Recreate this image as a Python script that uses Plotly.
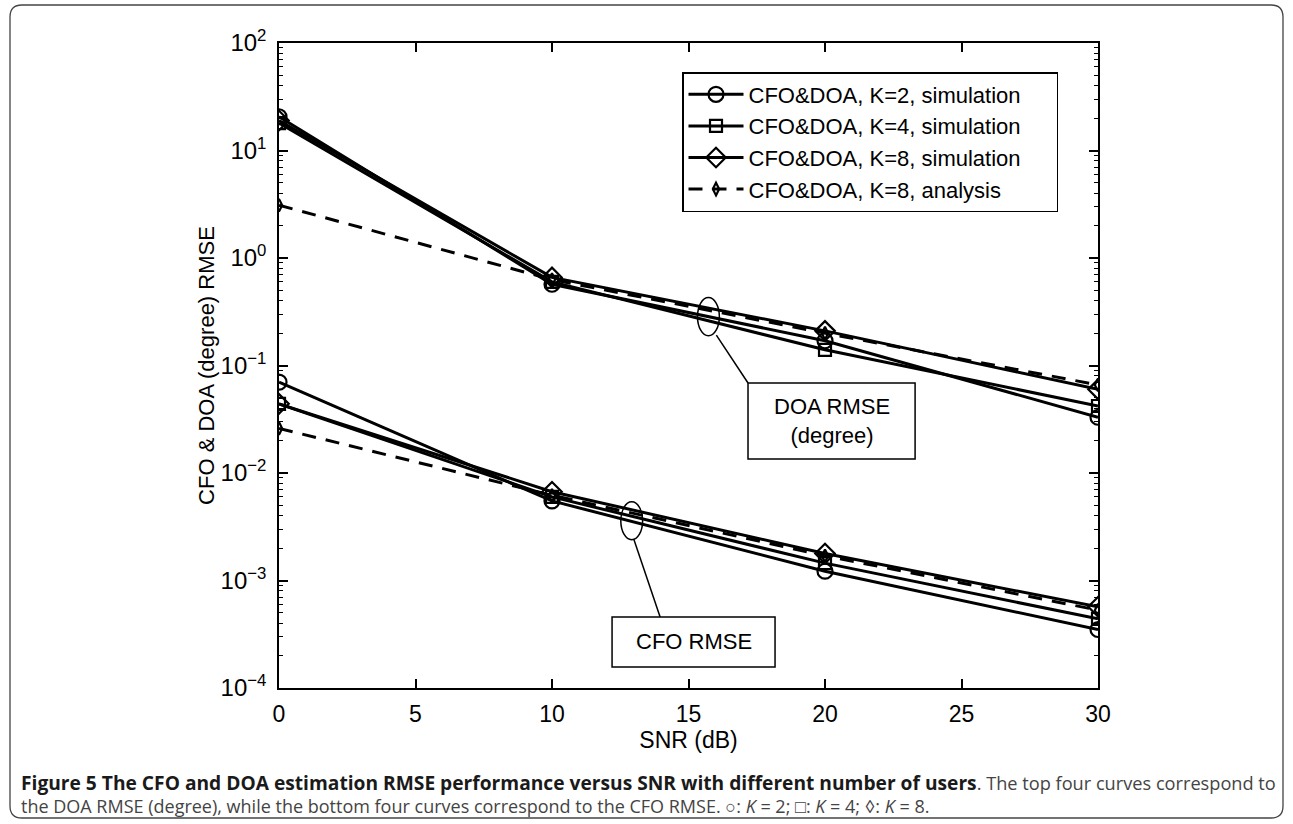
import math
import plotly.graph_objects as go

# ---------------- data ----------------
snr = [0, 10, 20, 30]

doa_k2 = [20.6, 0.57, 0.17, 0.033]
doa_k4 = [18.0, 0.60, 0.14, 0.042]
doa_k8 = [19.0, 0.66, 0.21, 0.060]
doa_ana = [3.1, 0.63, 0.20, 0.066]

cfo_k2 = [0.070, 0.0055, 0.00122, 0.00035]
cfo_k4 = [0.044, 0.0060, 0.00145, 0.00044]
cfo_k8 = [0.044, 0.0067, 0.00178, 0.00057]
cfo_ana = [0.026, 0.0062, 0.0017, 0.00053]

names = ["CFO&DOA, K=2, simulation", "CFO&DOA, K=4, simulation",
         "CFO&DOA, K=8, simulation", "CFO&DOA, K=8, analysis"]

x_ticks = [0, 5, 10, 15, 20, 25, 30]
y_tickvals = [1e-4, 1e-3, 1e-2, 1e-1, 1, 10, 100]
y_ticktext = ["10<sup>\u22124</sup>", "10<sup>\u22123</sup>", "10<sup>\u22122</sup>",
              "10<sup>\u22121</sup>", "10<sup>0</sup>", "10<sup>1</sup>", "10<sup>2</sup>"]
y_minor = [m * 10.0 ** e for e in range(-4, 2) for m in range(2, 10)]

# ---------------- layout geometry (pixels) ----------------
W, H = 1293, 824
L, R, T, B = 279, 195, 43, 136
PW, PH = W - L - R, H - T - B


def px(x):
    return (x - L) / PW


def py(y):
    return (H - B - y) / PH


FONT = "Liberation Sans, Arial, Helvetica, sans-serif"
CAPFONT = "Open Sans, Noto Sans, sans-serif"

fig = go.Figure()

series = [
    (doa_ana, cfo_ana, names[3], "diamond-tall-open", 9, "dash"),
    (doa_k2, cfo_k2, names[0], "circle-open", 15, "solid"),
    (doa_k4, cfo_k4, names[1], "square-open", 12, "solid"),
    (doa_k8, cfo_k8, names[2], "diamond-open", 15, "solid"),
]
legend_rank = {names[0]: 1, names[1]: 2, names[2]: 3, names[3]: 4}
PAD = "\u00a0" * 5

for doa, cfo, name, sym, size, dash in series:
    xs = snr + [None] + snr
    ys = doa + [None] + cfo
    fig.add_trace(go.Scatter(
        x=xs, y=ys, name=name + PAD, mode="lines+markers",
        connectgaps=False,
        legendrank=legend_rank[name],
        line=dict(color="black", width=3, dash="14px,10px" if dash == "dash" else "solid"),
        marker=dict(symbol=sym, size=size, color="black",
                    line=dict(color="black", width=2.2)),
    ))

# ---------------- annotation callouts (data coords) ----------------
shapes = []
# DOA ellipse, line and box
shapes.append(dict(type="circle", xref="x", yref="y", x0=15.33, x1=16.13, y0=0.189, y1=0.428,
                   line=dict(color="black", width=1.5)))
shapes.append(dict(type="line", xref="x", yref="y", x0=16.02, y0=0.192, x1=17.18, y1=0.0687,
                   line=dict(color="black", width=1.5)))
shapes.append(dict(type="rect", xref="x", yref="y", x0=17.18, x1=23.3, y0=0.0135, y1=0.0687,
                   line=dict(color="black", width=1.5), fillcolor="white"))
# CFO ellipse, line and box
shapes.append(dict(type="circle", xref="x", yref="y", x0=12.52, x1=13.32, y0=0.00239, y1=0.0054,
                   line=dict(color="black", width=1.5)))
shapes.append(dict(type="line", xref="x", yref="y", x0=13.0, y0=0.00241, x1=13.96, y1=4.57e-4,
                   line=dict(color="black", width=1.5)))
shapes.append(dict(type="rect", xref="x", yref="y", x0=12.2, x1=18.17, y0=1.57e-4, y1=4.57e-4,
                   line=dict(color="black", width=1.5), fillcolor="white"))

# outer rounded frame (paper coords built from pixel edges)
x0p, x1p = px(10), px(1283)
ytp, ybp = py(5), py(818)
rx, ry = 12 / PW, 12 / PH
frame_path = (
    f"M{x0p + rx},{ytp} L{x1p - rx},{ytp} Q{x1p},{ytp} {x1p},{ytp - ry} "
    f"L{x1p},{ybp + ry} Q{x1p},{ybp} {x1p - rx},{ybp} "
    f"L{x0p + rx},{ybp} Q{x0p},{ybp} {x0p},{ybp + ry} "
    f"L{x0p},{ytp - ry} Q{x0p},{ytp} {x0p + rx},{ytp} Z"
)
shapes.append(dict(type="path", xref="paper", yref="paper", path=frame_path,
                   line=dict(color="#444444", width=1.3), layer="below"))

annotations = [
    dict(x=(17.18 + 23.3) / 2, y=math.log10(0.0305), xref="x", yref="y",
         text="DOA RMSE<br>(degree)", showarrow=False,
         font=dict(family=FONT, size=22, color="black")),
    dict(x=(12.2 + 18.17) / 2, y=math.log10(2.68e-4), xref="x", yref="y",
         text="CFO RMSE", showarrow=False,
         font=dict(family=FONT, size=22, color="black")),
    dict(x=px(19), y=py(782), xref="paper", yref="paper", xanchor="left", yanchor="middle",
         showarrow=False, align="left",
         text="<b><span style='color:#1a1a1a;font-size:19.2px'>Figure 5 The CFO and DOA estimation RMSE "
              "performance versus SNR with different number of users</span></b>. "
              "The top four curves correspond to",
         font=dict(family=CAPFONT, size=18.2, color="#444444")),
    dict(x=px(19), y=py(806), xref="paper", yref="paper", xanchor="left", yanchor="middle",
         showarrow=False, align="left",
         text="the DOA RMSE (degree), while the bottom four curves correspond to the CFO RMSE. "
              "\u25cb: <i>K</i> = 2; \u25a1: <i>K</i> = 4; \u25ca: <i>K</i> = 8.",
         font=dict(family=CAPFONT, size=18.0, color="#444444")),
]

fig.update_layout(
    width=W, height=H,
    margin=dict(l=L, r=R, t=T, b=B, autoexpand=False),
    paper_bgcolor="white", plot_bgcolor="white",
    font=dict(family=FONT, size=22, color="black"),
    shapes=shapes,
    annotations=annotations,
    legend=dict(
        x=px(682), y=py(72), xanchor="left", yanchor="top",
        bgcolor="white", bordercolor="black", borderwidth=1.5,
        font=dict(family=FONT, size=22, color="black"),
        itemwidth=55, tracegroupgap=0,
    ),
    showlegend=True,
)

fig.update_xaxes(
    range=[0, 30], tickvals=x_ticks, ticks="inside", ticklen=9, tickwidth=1.5,
    tickcolor="black", showline=True, linecolor="black", linewidth=1.5, mirror="allticks",
    showgrid=False, zeroline=False, ticklabelstandoff=5,
    tickfont=dict(family=FONT, size=23, color="black"),
    title=dict(text="SNR (dB)", font=dict(family=FONT, size=23, color="black"), standoff=0),
)
fig.update_yaxes(
    type="log", range=[-4, 2], tickvals=y_tickvals, ticktext=y_ticktext,
    ticks="inside", ticklen=9, tickwidth=1.5, tickcolor="black",
    showline=True, linecolor="black", linewidth=1.5, mirror="allticks",
    showgrid=False, zeroline=False, ticklabelstandoff=6,
    tickfont=dict(family=FONT, size=24, color="black"),
    minor=dict(tickvals=y_minor, ticks="inside", ticklen=4, tickwidth=1.2,
               tickcolor="black", showgrid=False),
    title=dict(text="CFO & DOA (degree) RMSE", font=dict(family=FONT, size=22, color="black"),
               standoff=0),
)

fig.write_html("out.html")
